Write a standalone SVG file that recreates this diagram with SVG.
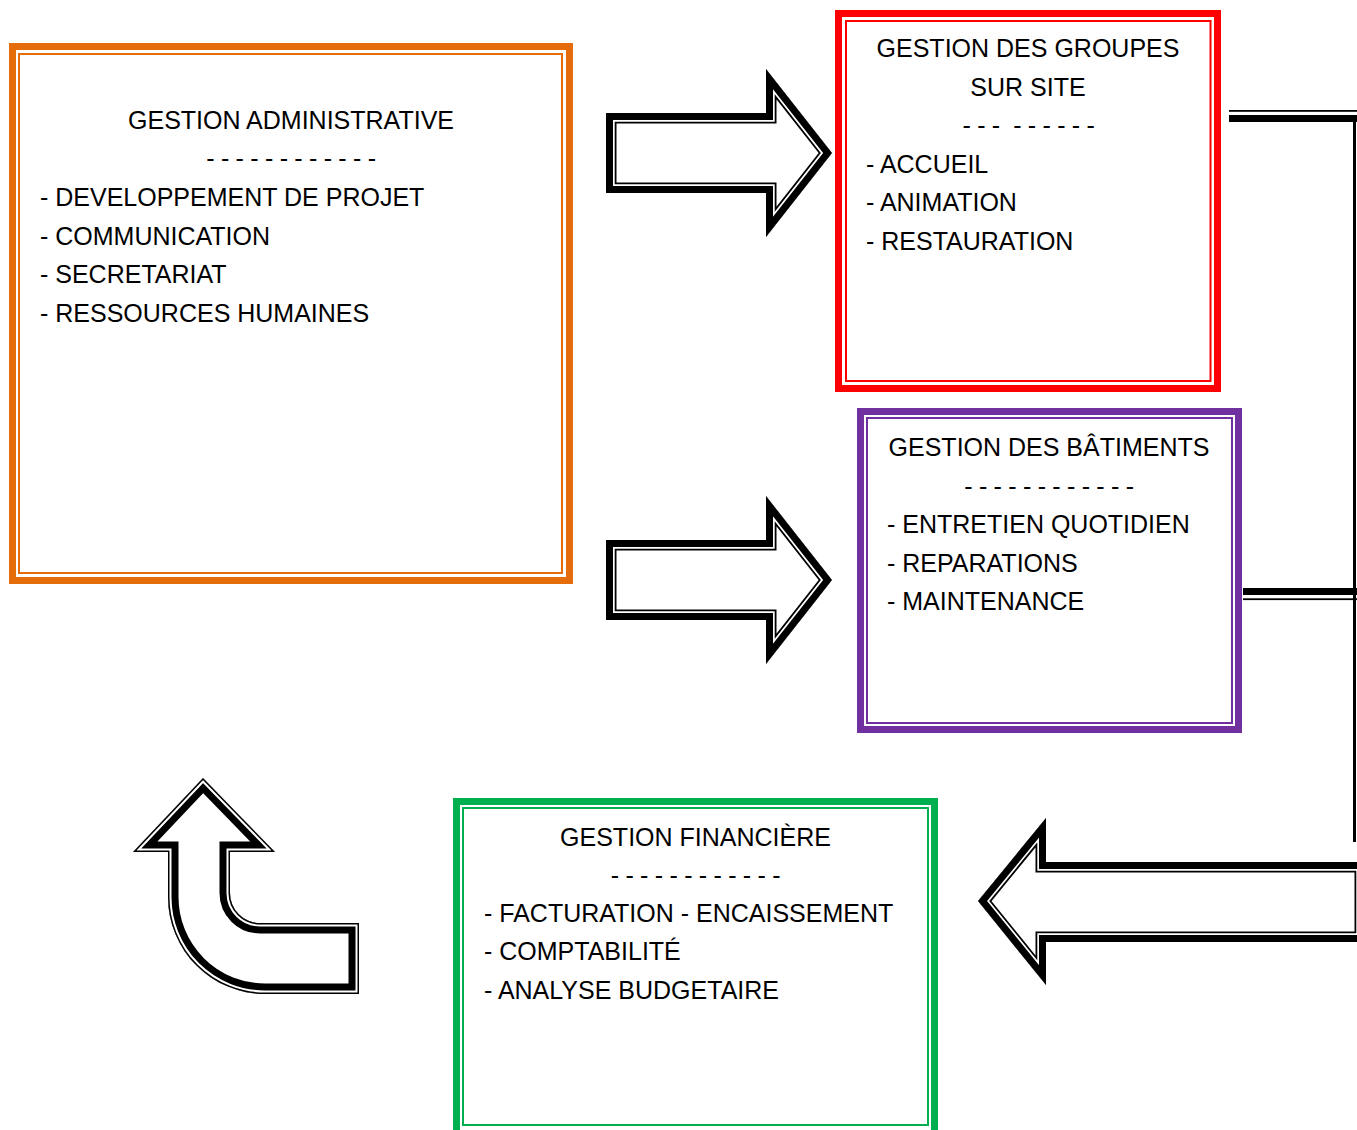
<svg xmlns="http://www.w3.org/2000/svg" xmlns:xlink="http://www.w3.org/1999/xlink" width="1357" height="1130" viewBox="0 0 1357 1130">
  <style>
    .t { font-family: "Liberation Sans", Arial, sans-serif; font-size: 25px; fill: #000; }
    .c { text-anchor: middle; }
    .pre { white-space: pre; }
    .dash { letter-spacing: -0.3px; }
    .box { fill: none; }
    .thick { stroke-width: 7; }
    .thin { stroke-width: 2; }
    .arr { stroke-linejoin: miter; stroke-miterlimit: 12; }
  </style>
  <defs>
    <!-- block arrow shapes (outer outline) -->
    <path id="arrRight" d="M606 113 H766 V69 L832 153 L766 237 V193 H606 Z"/>
    <path id="arrLeft" d="M978 901 L1046 818 V862 H1365 V942 H1046 V985 Z"/>
    <path id="arrBent" d="M203 778 L275 852 H230 V893 A30 30 0 0 0 260 923 H359 V994 H265 A97 97 0 0 1 168 897 V852 H133 Z"/>
    <clipPath id="clipRight"><use xlink:href="#arrRight"/></clipPath>
    <clipPath id="clipLeft"><use xlink:href="#arrLeft"/></clipPath>
    <clipPath id="clipBent"><use xlink:href="#arrBent"/></clipPath>
  </defs>

  <rect width="1357" height="1130" fill="#fff"/>

  <!-- nodes -->
  <g id="node-admin">
    <rect class="box thick" x="12.5" y="46.5" width="557" height="534" stroke="#E46C0A"/>
    <rect class="box thin" x="19" y="54" width="543" height="519" stroke="#E46C0A"/>
    <text class="t c" x="291" y="129">GESTION ADMINISTRATIVE</text>
    <text class="t c dash" x="291" y="167">- - - - - - - - - - - -</text>
    <text class="t" x="40" y="206">- DEVELOPPEMENT DE PROJET</text>
    <text class="t" x="40" y="244.5">- COMMUNICATION</text>
    <text class="t" x="40" y="283">- SECRETARIAT</text>
    <text class="t" x="40" y="321.5">- RESSOURCES HUMAINES</text>
  </g>

  <g id="node-groupes">
    <rect class="box thick" x="838.5" y="13.5" width="379" height="375" stroke="#FF0000"/>
    <rect class="box thin" x="846" y="21" width="364.5" height="360" stroke="#FF0000"/>
    <text class="t c" x="1028" y="57">GESTION DES GROUPES</text>
    <text class="t c" x="1028" y="95.5">SUR SITE</text>
    <text class="t c pre dash" x="1028.5" y="134">- - -  - - - - - -</text>
    <text class="t" x="866" y="172.5">- ACCUEIL</text>
    <text class="t" x="866" y="211">- ANIMATION</text>
    <text class="t" x="866" y="249.5">- RESTAURATION</text>
  </g>

  <g id="node-batiments">
    <rect class="box thick" x="860.5" y="411.5" width="378" height="318" stroke="#7030A0"/>
    <rect class="box thin" x="867" y="418" width="365" height="305" stroke="#7030A0"/>
    <text class="t c" x="1049" y="456">GESTION DES BÂTIMENTS</text>
    <text class="t c dash" x="1049" y="494.5">- - - - - - - - - - - -</text>
    <text class="t" x="887" y="533">- ENTRETIEN QUOTIDIEN</text>
    <text class="t" x="887" y="571.5">- REPARATIONS</text>
    <text class="t" x="887" y="610">- MAINTENANCE</text>
  </g>

  <g id="node-financiere">
    <rect class="box thick" x="456.5" y="801.5" width="478" height="333" stroke="#00B050"/>
    <rect class="box thin" x="463" y="808" width="465" height="317" stroke="#00B050"/>
    <text class="t c" x="695.5" y="846">GESTION FINANCIÈRE</text>
    <text class="t c dash" x="695.5" y="884">- - - - - - - - - - - -</text>
    <text class="t" x="484" y="922">- FACTURATION - ENCAISSEMENT</text>
    <text class="t" x="484" y="960">- COMPTABILITÉ</text>
    <text class="t" x="484" y="998.5">- ANALYSE BUDGETAIRE</text>
  </g>

  <!-- connectors -->
  <g id="connectors">
    <!-- right-hand bracket joining the two upper boxes to the return arrow -->
    <rect x="1229" y="110" width="128" height="1.8" fill="#000"/>
    <rect x="1229" y="115" width="128" height="7" fill="#000"/>
    <rect x="1353" y="115" width="3" height="727" fill="#000"/>
    <rect x="1243" y="588" width="114" height="7" fill="#000"/>
    <rect x="1243" y="598.3" width="114" height="1.8" fill="#000"/>

    <!-- block arrows: thick outer band, thin inner line -->
    <g class="arr" clip-path="url(#clipRight)">
      <use xlink:href="#arrRight" fill="#fff" stroke="#000" stroke-width="21"/>
      <use xlink:href="#arrRight" fill="none" stroke="#fff" stroke-width="17.4"/>
      <use xlink:href="#arrRight" fill="none" stroke="#000" stroke-width="14"/>
    </g>
    <g transform="translate(0,427)">
      <g class="arr" clip-path="url(#clipRight)">
        <use xlink:href="#arrRight" fill="#fff" stroke="#000" stroke-width="21"/>
        <use xlink:href="#arrRight" fill="none" stroke="#fff" stroke-width="17.4"/>
        <use xlink:href="#arrRight" fill="none" stroke="#000" stroke-width="14"/>
      </g>
    </g>
    <g class="arr" clip-path="url(#clipLeft)">
      <use xlink:href="#arrLeft" fill="#fff" stroke="#000" stroke-width="21"/>
      <use xlink:href="#arrLeft" fill="none" stroke="#fff" stroke-width="17.4"/>
      <use xlink:href="#arrLeft" fill="none" stroke="#000" stroke-width="14"/>
    </g>
    <!-- bent return arrow: thin outer line, thick inner band -->
    <g class="arr" clip-path="url(#clipBent)">
      <use xlink:href="#arrBent" fill="#fff" stroke="#000" stroke-width="21"/>
      <use xlink:href="#arrBent" fill="none" stroke="#fff" stroke-width="7"/>
      <use xlink:href="#arrBent" fill="none" stroke="#000" stroke-width="3"/>
    </g>
  </g>
</svg>
